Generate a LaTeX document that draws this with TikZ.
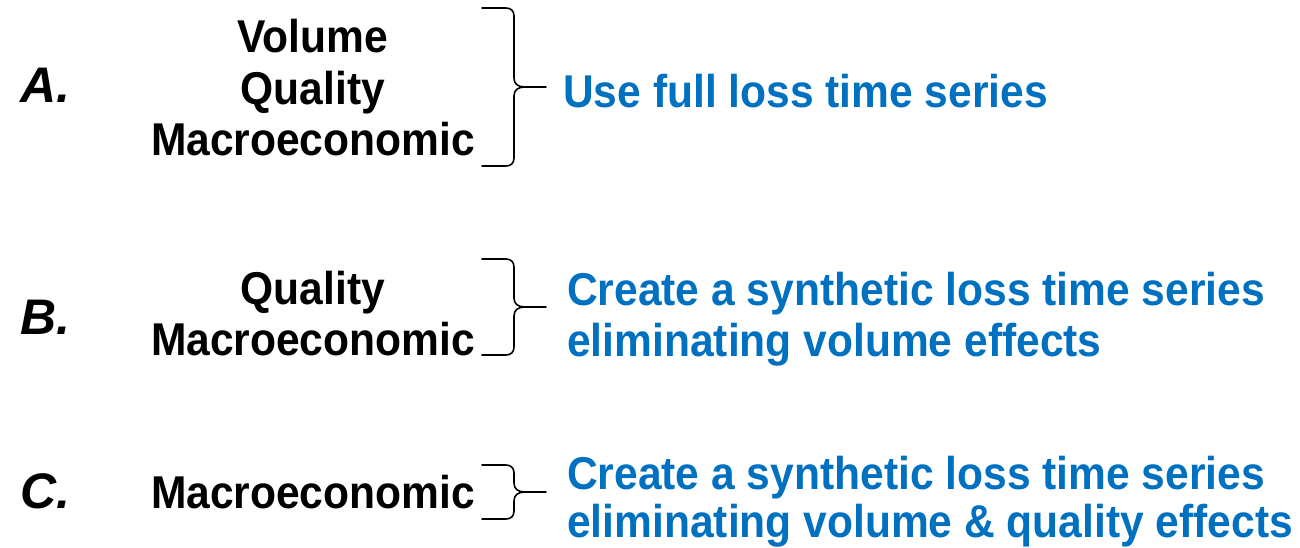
\documentclass[tikz,border=0pt]{standalone}
\usepackage{fontspec}
\setmainfont{Liberation Sans}[FakeStretch=0.925]
\newfontfamily\labfont{Liberation Sans}
\definecolor{blu}{RGB}{0,112,192}
\newcommand\mybrace[4]{% name, top, mid, bottom
  \draw[bracestyle] (482,#2) -- (506,#2) .. controls (511,#2) and (514,#2+3) .. (514,#2+8)
    -- (514,#3-9) .. controls (514,#3-3) and (518,#3) .. (525,#3)
    .. controls (518,#3) and (514,#3+3) .. (514,#3+9)
    -- (514,#4-8) .. controls (514,#4-3) and (511,#4) .. (506,#4) -- (482,#4);
  \coordinate (#1in) at (525,#3);
  \coordinate (#1out) at (546,#3);
  \draw[bracestyle] (#1in) -- (#1out);
}
\begin{document}
\begin{tikzpicture}[x=1pt,y=-1pt,
  lab/.style={anchor=base west,inner sep=0,font=\labfont\fontsize{50}{60}\selectfont\bfseries\itshape},
  item/.style={anchor=base,inner sep=0,font=\fontsize{46}{51}\selectfont\bfseries},
  res/.style={anchor=base west,inner sep=0,text=blu,font=\fontsize{46}{51}\selectfont\bfseries},
  bracestyle/.style={line width=1.6pt,line join=round,line cap=round}]
\useasboundingbox (0,0) rectangle (1300,548);
% A
\node[lab] (la) at (20,103) {A.};
\node[item] (a1) at (313,53) {Volume};
\node[item] (a2) at (313,105) {Quality};
\node[item] (a3) at (313,156) {Macroeconomic};
\mybrace{ba}{8}{87}{166}
\node[res] (ra) at (563,108) {Use full loss time series};
% B
\node[lab] (lb) at (20,334) {B.};
\node[item] (b1) at (313,304) {Quality};
\node[item] (b2) at (313,355) {Macroeconomic};
\mybrace{bb}{259}{307}{355}
\node[res] (rb1) at (567,305) {Create a synthetic loss time series};
\node[res] (rb2) at (567,356) {eliminating volume effects};
% C
\node[lab] (lc) at (20,508) {C.};
\node[item] (c1) at (313,508) {Macroeconomic};
\mybrace{bc}{465}{492}{519}
\node[res] (rc1) at (567,489) {Create a synthetic loss time series};
\node[res] (rc2) at (567,537) {eliminating volume \& quality effects};
\end{tikzpicture}
\end{document}
